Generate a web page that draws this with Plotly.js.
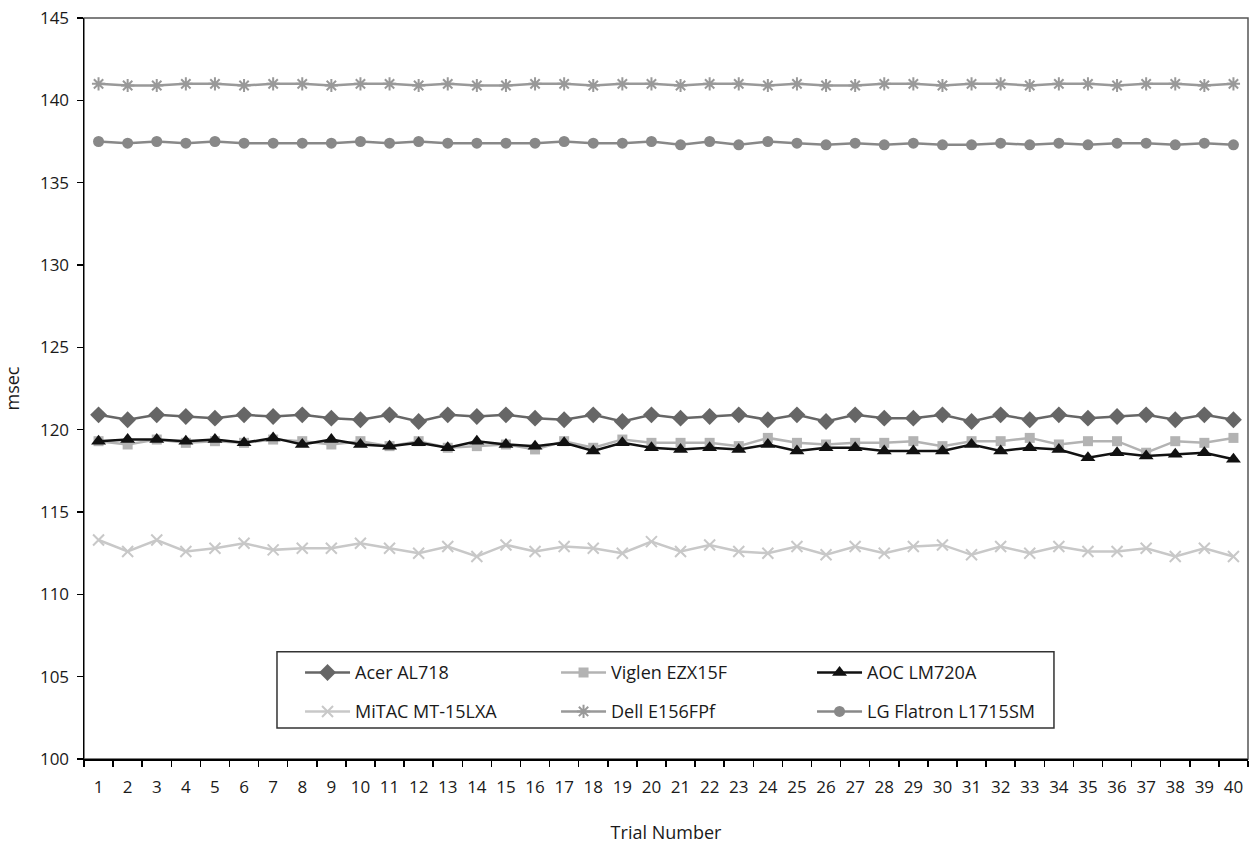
<!DOCTYPE html>
<html>
<head>
<meta charset="utf-8">
<script src="https://cdn.plot.ly/plotly-3.0.1.min.js"></script>
<style>html,body{margin:0;padding:0;background:#fff;}#chart{width:1256px;height:850px;}</style>
</head>
<body>
<div id="chart"></div>
<script>
var trials = [];
for (var i = 1; i <= 40; i++) trials.push(String(i));

var acer = [120.9,120.6,120.9,120.8,120.7,120.9,120.8,120.9,120.7,120.6,120.9,120.5,120.9,120.8,120.9,120.7,120.6,120.9,120.5,120.9,120.7,120.8,120.9,120.6,120.9,120.5,120.9,120.7,120.7,120.9,120.5,120.9,120.6,120.9,120.7,120.8,120.9,120.6,120.9,120.6];
var viglen = [119.3,119.1,119.4,119.2,119.3,119.2,119.4,119.3,119.1,119.3,119.0,119.3,118.9,119.0,119.1,118.8,119.3,118.9,119.4,119.2,119.2,119.2,119.0,119.5,119.2,119.1,119.2,119.2,119.3,119.0,119.3,119.3,119.5,119.1,119.3,119.3,118.6,119.3,119.2,119.5];
var aoc = [119.3,119.4,119.4,119.3,119.4,119.2,119.5,119.1,119.4,119.1,119.0,119.2,118.9,119.3,119.1,119.0,119.2,118.7,119.2,118.9,118.8,118.9,118.8,119.1,118.7,118.9,118.9,118.7,118.7,118.7,119.1,118.7,118.9,118.8,118.3,118.6,118.4,118.5,118.6,118.2];
var mitac = [113.3,112.6,113.3,112.6,112.8,113.1,112.7,112.8,112.8,113.1,112.8,112.5,112.9,112.3,113.0,112.6,112.9,112.8,112.5,113.2,112.6,113.0,112.6,112.5,112.9,112.4,112.9,112.5,112.9,113.0,112.4,112.9,112.5,112.9,112.6,112.6,112.8,112.3,112.8,112.3];
var dell = [141.0,140.9,140.9,141.0,141.0,140.9,141.0,141.0,140.9,141.0,141.0,140.9,141.0,140.9,140.9,141.0,141.0,140.9,141.0,141.0,140.9,141.0,141.0,140.9,141.0,140.9,140.9,141.0,141.0,140.9,141.0,141.0,140.9,141.0,141.0,140.9,141.0,141.0,140.9,141.0];
var lg = [137.5,137.4,137.5,137.4,137.5,137.4,137.4,137.4,137.4,137.5,137.4,137.5,137.4,137.4,137.4,137.4,137.5,137.4,137.4,137.5,137.3,137.5,137.3,137.5,137.4,137.3,137.4,137.3,137.4,137.3,137.3,137.4,137.3,137.4,137.3,137.4,137.4,137.3,137.4,137.3];

var seriesNames = ["Acer AL718","Viglen EZX15F","AOC LM720A","MiTAC MT-15LXA","Dell E156FPf","LG Flatron L1715SM"];

var FONT = "Open Sans, Liberation Sans, sans-serif";

function tr(name, y, color, symbol, size, legend, mline) {
  var m = {symbol: symbol, size: size, color: color};
  if (mline) m.line = {color: color, width: mline};
  return {
    type: "scatter", mode: "lines+markers", name: name, x: trials, y: y,
    line: {color: color, width: 2.5}, marker: m, legend: legend
  };
}

var data = [
  tr(seriesNames[0], acer, "#666666", "diamond", 13, "legend"),
  tr(seriesNames[1], viglen, "#b3b3b3", "square", 10, "legend"),
  tr(seriesNames[2], aoc, "#111111", "triangle-up", 13, "legend"),
  tr(seriesNames[3], mitac, "#c8c8c8", "x-thin-open", 11, "legend2", 2),
  tr(seriesNames[4], dell, "#999999", "asterisk-open", 11, "legend2", 2),
  tr(seriesNames[5], lg, "#888888", "circle", 11, "legend2")
];

var legendCommon = {
  orientation: "h", x: 0.1856, xanchor: "left", yanchor: "middle",
  itemwidth: 45,
  entrywidth: 196, entrywidthmode: "pixels",
  bgcolor: "rgba(0,0,0,0)", borderwidth: 0,
  font: {family: FONT, size: 18, color: "#1a1a1a"}
};

var layout = {
  width: 1256, height: 850,
  margin: {l: 84, r: 8, t: 18, b: 91},
  paper_bgcolor: "#fff", plot_bgcolor: "#fff",
  font: {family: FONT, size: 17, color: "#1a1a1a"},
  showlegend: true,
  legend: Object.assign({}, legendCommon, {y: 0.1164}),
  legend2: Object.assign({}, legendCommon, {y: 0.0638}),
  xaxis: {
    type: "category", range: [-0.5, trials.length - 0.5], autorange: false,
    tickson: "boundaries", ticks: "outside", ticklen: 6, tickwidth: 1.5, tickcolor: "#000",
    showline: true, linecolor: "#000", linewidth: 1.5, showgrid: false, zeroline: false,
    tickangle: 0, ticklabelstandoff: 12,
    tickfont: {family: FONT, size: 17, color: "#1a1a1a"},
    title: {text: "Trial Number", standoff: 29, font: {family: FONT, size: 18, color: "#1a1a1a"}}
  },
  yaxis: {
    range: [100, 145], autorange: false, dtick: 5, tick0: 100, ticks: "outside", ticklen: 6, tickwidth: 1.5, tickcolor: "#000",
    showline: true, linecolor: "#000", linewidth: 1.5, showgrid: false, zeroline: false,
    ticklabelstandoff: 4,
    tickfont: {family: FONT, size: 17, color: "#1a1a1a"},
    title: {text: "msec", standoff: 15, font: {family: FONT, size: 18, color: "#1a1a1a"}}
  },
  shapes: [
    {type: "rect", xref: "paper", yref: "paper", x0: 0, x1: 1, y0: 0, y1: 1,
     line: {color: "#555555", width: 1.5}, fillcolor: "rgba(0,0,0,0)", layer: "below"},
    {type: "rect", xref: "paper", yref: "paper", x0: 0.1658, x1: 0.8333, y0: 0.0418, y1: 0.1447,
     line: {color: "#333333", width: 1.5}, fillcolor: "#ffffff", layer: "above"}
  ]
};

Plotly.newPlot("chart", data, layout, {displayModeBar: false, staticPlot: true});
</script>
</body>
</html>
